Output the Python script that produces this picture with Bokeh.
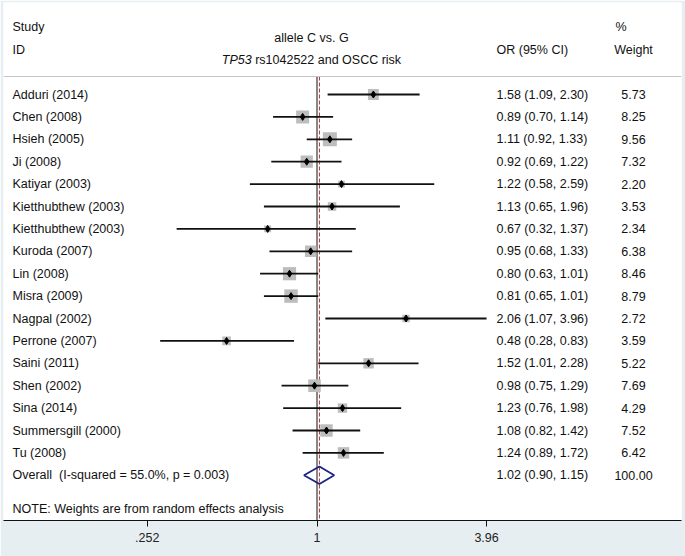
import numpy as np
from bokeh.plotting import figure
from bokeh.models import (Range1d, FixedTicker, CustomJSTickFormatter, LabelSet,
                          ColumnDataSource, Span)
from bokeh.core.properties import value
from bokeh.embed import file_html
from bokeh.resources import INLINE

# ---------------- data ----------------
studies = ["Adduri (2014)", "Chen (2008)", "Hsieh (2005)", "Ji (2008)", "Katiyar (2003)",
           "Kietthubthew (2003)", "Kietthubthew (2003)", "Kuroda (2007)", "Lin (2008)",
           "Misra (2009)", "Nagpal (2002)", "Perrone (2007)", "Saini (2011)", "Shen (2002)",
           "Sina (2014)", "Summersgill (2000)", "Tu (2008)"]
or_est = [1.58, 0.89, 1.11, 0.92, 1.22, 1.13, 0.67, 0.95, 0.80, 0.81, 2.06, 0.48, 1.52, 0.98, 1.23, 1.08, 1.24]
ci_lo = [1.09, 0.70, 0.92, 0.69, 0.58, 0.65, 0.32, 0.68, 0.63, 0.65, 1.07, 0.28, 1.01, 0.75, 0.76, 0.82, 0.89]
ci_hi = [2.30, 1.14, 1.33, 1.22, 2.59, 1.96, 1.37, 1.33, 1.01, 1.01, 3.96, 0.83, 2.28, 1.29, 1.98, 1.42, 1.72]
weights = [5.73, 8.25, 9.56, 7.32, 2.20, 3.53, 2.34, 6.38, 8.46, 8.79, 2.72, 3.59, 5.22, 7.69, 4.29, 7.52, 6.42]
overall_label = "Overall\u00a0 (I-squared = 55.0%, p = 0.003)"
overall_est, overall_lo, overall_hi, overall_w = 1.02, 0.90, 1.15, 100.00
note_text = "NOTE: Weights are from random effects analysis"
tick_vals = [0.252, 1.0, 3.96]
tick_labels = [".252", "1", "3.96"]
title1 = "allele C vs. G"
title2_italic = "TP53"
title2_rest = "rs1042522 and OSCC risk"

# ---------------- layout ----------------
W, H = 685, 556
B_L, B_R, B_T, AX_H = 3, 4, 2, 36
FONT = "Liberation Sans"
FS = "12.5px"
px_per_ln = 123.2
x_one = 316.5 - B_L          # frame-relative position of OR = 1
row_px = 22.4
row0 = 94.0                  # canvas y of first study row
frame_w = W - B_L - B_R
frame_top, frame_bot = B_T, H - AX_H

x_range = Range1d(float(np.exp(-x_one / px_per_ln)), float(np.exp((frame_w - x_one) / px_per_ln)))
y_bottom = (frame_bot - row0) / row_px
y_top = (frame_top - row0) / row_px
y_range = Range1d(y_bottom, y_top)

p = figure(width=W, height=H, x_axis_type="log", x_range=x_range, y_range=y_range,
           y_axis_location=None, output_backend="svg", toolbar_location=None,
           min_border_left=B_L, min_border_right=B_R, min_border_top=B_T, min_border_bottom=AX_H,
           background_fill_color="white", border_fill_color="#e7eef2",
           outline_line_color=None)
p.grid.visible = False

ax = p.xaxis[0]
ax.ticker = FixedTicker(ticks=tick_vals, minor_ticks=[])
ax.formatter = CustomJSTickFormatter(
    args=dict(vals=tick_vals, labs=tick_labels),
    code="for (let i = 0; i < vals.length; i++) { if (Math.abs(vals[i] - tick) < 1e-9) return labs[i]; } return '';")
ax.axis_line_color = "#111111"
ax.axis_line_width = 1
ax.major_tick_line_color = "#111111"
ax.major_tick_out = 6
ax.major_tick_in = 0
ax.minor_tick_line_color = None
ax.major_label_standoff = 6
ax.major_label_text_font = FONT
ax.major_label_text_font_size = FS
ax.major_label_text_color = "#222222"

rows = list(range(len(studies)))
overall_row = len(studies)
note_row = overall_row + 1.5
sep_row = (76.0 - row0) / row_px

# header separator
p.add_layout(Span(location=sep_row, dimension="width", line_color="#c4c4c4", line_width=1))

# reference line at 1 and dashed line at overall estimate
p.segment(x0=[1.0], y0=[sep_row], x1=[1.0], y1=[y_bottom], line_color="#111111", line_width=1)
p.segment(x0=[overall_est], y0=[sep_row], x1=[overall_est], y1=[y_bottom],
          line_color="#b03838", line_width=1, line_dash="4 2")

# weight boxes
sizes = [14.0 * np.sqrt(w / max(weights)) for w in weights]
p.scatter(x=or_est, y=rows, size=sizes, marker="square", fill_color="#bdbdbd", line_color=None)
# confidence intervals
p.segment(x0=ci_lo, y0=rows, x1=ci_hi, y1=rows, line_color="#111111", line_width=1.8)
# point estimates
p.scatter(x=or_est, y=rows, marker="diamond", size=7, fill_color="black", line_color="black")

# overall diamond
dh = 0.39
p.patch(x=[overall_lo, overall_est, overall_hi, overall_est],
        y=[overall_row, overall_row - dh, overall_row, overall_row + dh],
        fill_color=None, line_color="#1c2480", line_width=1.8)


def add_labels(xs, ys, texts, align="left", style="normal"):
    src = ColumnDataSource(dict(x=xs, y=ys, text=texts))
    ls = LabelSet(x="x", y="y", text="text", source=src, x_units="screen", y_units="data",
                  text_font=value(FONT), text_font_size=value(FS), text_color="#111111",
                  text_align=align, text_baseline="middle", text_font_style=style)
    p.add_layout(ls)


X_STUDY = 12 - B_L
X_OR = 496 - B_L
X_W = 633 - B_L
X_PCT = 615 - B_L
X_TITLE = 311 - B_L

# header
add_labels([X_STUDY, X_STUDY], [-3, -2], ["Study", "ID"])
add_labels([X_OR], [-2], ["OR (95% CI)"])
add_labels([X_PCT], [-3], ["%"])
add_labels([X_W], [-2], ["Weight"], align="center")
add_labels([X_TITLE], [-2.54], [title1], align="center")
t2_left = X_TITLE - 89.7
add_labels([t2_left], [-1.56], [title2_italic], style="italic")
add_labels([t2_left + 29.9 + 3.5], [-1.56], [title2_rest])

# study rows
or_txt = [f"{e:.2f} ({l:.2f}, {h:.2f})" for e, l, h in zip(or_est, ci_lo, ci_hi)]
w_txt = [f"{w:.2f}" for w in weights]
add_labels([X_STUDY] * len(studies) + [X_STUDY, X_STUDY],
           rows + [overall_row, note_row], studies + [overall_label, note_text])
add_labels([X_OR] * (len(studies) + 1), rows + [overall_row],
           or_txt + [f"{overall_est:.2f} ({overall_lo:.2f}, {overall_hi:.2f})"])
add_labels([X_W] * (len(studies) + 1), rows + [overall_row], w_txt + [f"{overall_w:.2f}"],
           align="center")

open("out.html", "w").write(file_html(p, INLINE))
